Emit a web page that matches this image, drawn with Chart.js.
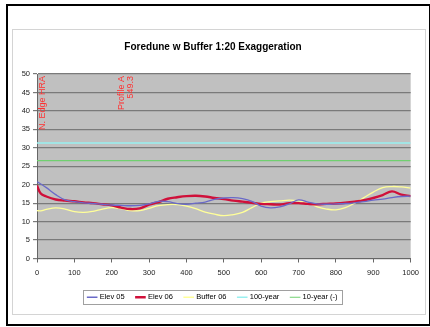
<!DOCTYPE html>
<html>
<head>
<meta charset="utf-8">
<script src="https://cdn.jsdelivr.net/npm/chart.js@4"></script>
<style>
  html, body { margin: 0; padding: 0; background: #fff; }
  #frame { position: absolute; left: 6px; top: 4px; width: 421px; height: 318px; border: 2px solid #000; }
  #box { position: absolute; left: 12px; top: 29px; width: 412px; height: 284px; border: 1px solid #d4d4d4; }
</style>
</head>
<body>
<div id="frame"></div>
<div id="box"><canvas id="c" width="412" height="284"></canvas></div>
<script>
const xs = [0, 10, 25, 50, 75, 100, 125, 150, 175, 200, 225, 250, 275, 300, 325, 350, 375, 400, 425, 450, 475,
            500, 525, 550, 575, 600, 625, 650, 675, 700, 725, 750, 775, 800, 825, 850, 875, 900, 925, 950, 975, 1000];
const elev05 = [20.8, 20.2, 19.2, 17.3, 15.9, 15.4, 15.1, 14.9, 14.7, 14.5, 14.4, 14.3, 14.4, 14.8, 15.5, 15.4, 14.9, 14.7, 15.0, 15.3, 16.0,
                16.4, 16.5, 16.2, 15.5, 14.2, 13.7, 14.0, 14.8, 15.9, 15.3, 14.8, 14.7, 14.8, 14.9, 15.1, 15.4, 15.8, 16.1, 16.5, 16.8, 16.9];
const elev06 = [19.8, 17.6, 16.8, 16.0, 15.7, 15.5, 15.2, 15.0, 14.7, 14.4, 13.8, 13.4, 13.6, 14.6, 15.3, 16.2, 16.6, 16.9, 17.0, 16.8, 16.4,
                16.1, 15.7, 15.4, 15.1, 14.8, 14.7, 14.6, 15.0, 15.0, 14.8, 14.7, 14.8, 14.9, 15.1, 15.4, 15.8, 16.4, 17.2, 18.2, 17.3, 16.9];
const buffer06 = [13.0, 12.9, 13.3, 13.7, 13.4, 12.7, 12.5, 12.8, 13.4, 13.8, 13.5, 13.0, 13.0, 13.6, 14.3, 14.6, 14.6, 14.2, 13.5, 12.6, 12.0,
                  11.6, 11.9, 12.5, 13.8, 15.0, 15.4, 15.6, 15.8, 15.6, 15.0, 14.0, 13.4, 13.2, 13.8, 15.0, 16.5, 18.0, 19.2, 19.5, 19.4, 19.1];
const levelX = [0, 1000];
const year100 = 31.3;
const year10 = 26.5;
const yTicks = [0, 5, 10, 15, 20, 25, 30, 35, 40, 45, 50];
const xTicks = [0, 100, 200, 300, 400, 500, 600, 700, 800, 900, 1000];
// vertical red notes: x value, lines of text
const notes = [
    { x: 16, lines: ['N. Edge HRA'] },
    { x: 226, lines: ['Profile A', '549.3'] }
];

const pts = (a, b) => a.map((x, i) => ({ x: x, y: b[i] }));
const FONT = 'Arial, "Liberation Sans", sans-serif';

function mkLine(label, color, width, data, tension) {
    return { label: label, data: data, borderColor: color, backgroundColor: color, borderWidth: width,
        pointRadius: 0, tension: tension, fill: false };
}

const plotBg = {
    id: 'plotBg',
    beforeDraw(chart) {
        const a = chart.chartArea, ctx = chart.ctx;
        ctx.save();
        ctx.fillStyle = '#c0c0c0';
        ctx.fillRect(a.left, a.top, a.right - a.left, a.bottom - a.top);
        ctx.restore();
    }
};

const extras = {
    id: 'extras',
    afterDraw(chart) {
        const ctx = chart.ctx, sx = chart.scales.x, top = chart.chartArea.top;
        ctx.save();
        ctx.fillStyle = '#ff3030';
        ctx.font = '9px ' + FONT;
        ctx.textAlign = 'right';
        ctx.textBaseline = 'middle';
        notes.forEach(n => {
            n.lines.forEach((t, i) => {
                ctx.save();
                ctx.translate(sx.getPixelForValue(n.x) + i * 9, top + 2);
                ctx.rotate(-Math.PI / 2);
                ctx.fillText(t, 0, 0);
                ctx.restore();
            });
        });
        // legend frame
        const lg = chart.legend;
        if (lg && lg.legendHitBoxes.length) {
            const hb = lg.legendHitBoxes;
            const l = hb[0].left - 5, r = hb[hb.length - 1].left + hb[hb.length - 1].width + 5;
            const cy = hb[0].top + hb[0].height / 2;
            ctx.strokeStyle = '#a0a0a0';
            ctx.lineWidth = 1;
            ctx.strokeRect(Math.round(l) + 0.5, Math.round(cy - 7) + 0.5, Math.round(r - l), 14);
        }
        ctx.restore();
    }
};

new Chart(document.getElementById('c'), {
    type: 'line',
    data: {
        datasets: [
            mkLine('Elev 05', '#6a6ac8', 1.3, pts(xs, elev05), 0.4),
            mkLine('Elev 06', '#d0103a', 2.4, pts(xs, elev06), 0.4),
            mkLine('Buffer 06', '#ffff99', 1.3, pts(xs, buffer06), 0.4),
            mkLine('100-year', '#99f0f0', 1.5, pts(levelX, [year100, year100]), 0),
            mkLine('10-year (-)', '#70d070', 1.2, pts(levelX, [year10, year10]), 0)
        ]
    },
    options: {
        responsive: false,
        animation: false,
        layout: { padding: { top: 0, left: 0, right: 12, bottom: 3 } },
        plugins: {
            title: {
                display: true, text: 'Foredune w Buffer 1:20 Exaggeration', color: '#000',
                font: { family: FONT, size: 10, weight: 'bold' },
                padding: { top: 11, bottom: 21 }
            },
            legend: {
                position: 'bottom',
                labels: {
                    usePointStyle: true, pointStyle: 'line', boxWidth: 15, padding: 12, color: '#000',
                    font: { family: FONT, size: 7.5 }
                }
            },
            tooltip: { enabled: false }
        },
        scales: {
            x: {
                type: 'linear', min: 0, max: 1000,
                afterBuildTicks: s => { s.ticks = xTicks.map(v => ({ value: v })); },
                afterFit: s => { s.height = 23; },
                ticks: { color: '#222', font: { family: FONT, size: 7.5 }, padding: 6, maxRotation: 0,
                    callback: v => String(v) },
                grid: { drawOnChartArea: false, color: '#666', tickLength: 4 },
                border: { color: '#666', width: 1 }
            },
            y: {
                min: 0, max: 50,
                afterBuildTicks: s => { s.ticks = yTicks.map(v => ({ value: v })); },
                afterFit: s => { s.width = 24; },
                ticks: { color: '#222', font: { family: FONT, size: 7.5 }, padding: 3 },
                grid: { color: '#7a7a7a', lineWidth: 1.2, tickLength: 4 },
                border: { color: '#666', width: 1 }
            }
        }
    },
    plugins: [plotBg, extras]
});
</script>
</body>
</html>
